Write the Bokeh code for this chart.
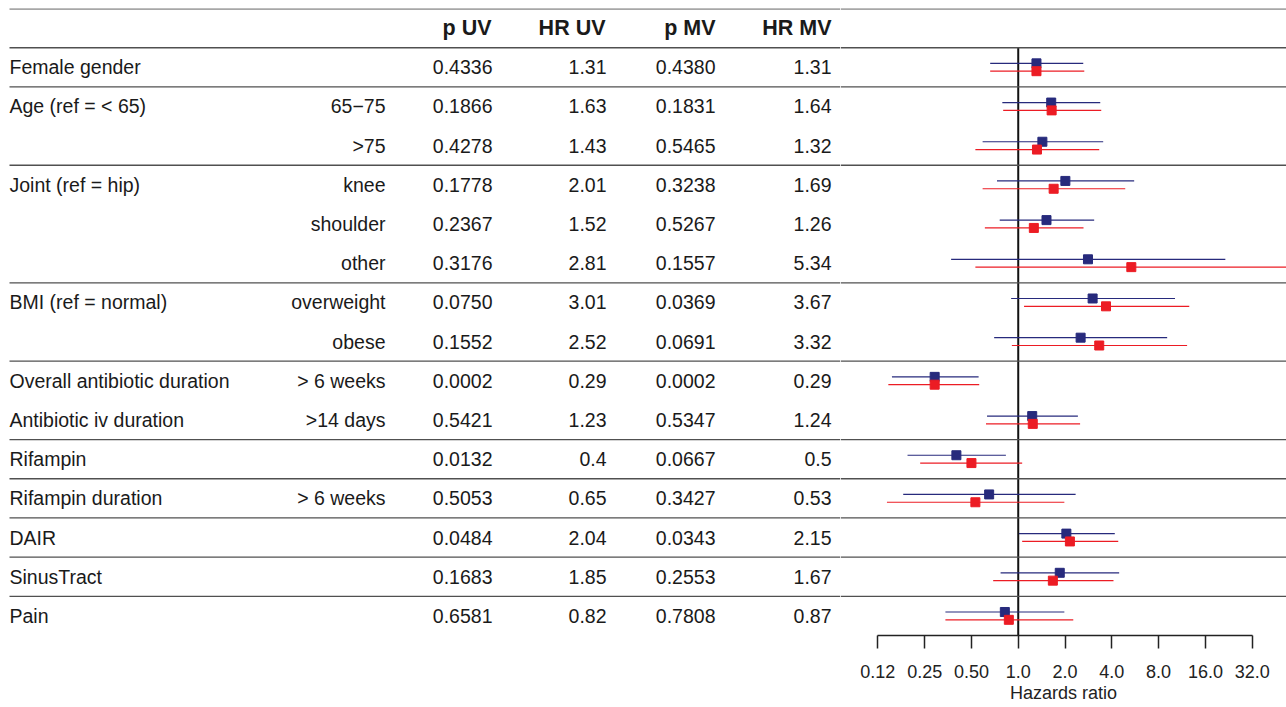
from bokeh.plotting import figure
from bokeh.layouts import row
from bokeh.models import Range1d, Span, FixedTicker, ColumnDataSource
from bokeh.core.properties import value
from bokeh.embed import file_html
from bokeh.resources import INLINE

# ---------------- data ----------------
labels = ["Female gender", "Age (ref = < 65)", "", "Joint (ref = hip)", "", "",
          "BMI (ref = normal)", "", "Overall antibiotic duration", "Antibiotic iv duration",
          "Rifampin", "Rifampin duration", "DAIR", "SinusTract", "Pain"]
sublabels = ["", "65\u221275", ">75", "knee", "shoulder", "other", "overweight", "obese",
             "> 6 weeks", ">14 days", "", "> 6 weeks", "", "", ""]
p_uv = ["0.4336", "0.1866", "0.4278", "0.1778", "0.2367", "0.3176", "0.0750", "0.1552",
        "0.0002", "0.5421", "0.0132", "0.5053", "0.0484", "0.1683", "0.6581"]
hr_uv = [1.31, 1.63, 1.43, 2.01, 1.52, 2.81, 3.01, 2.52, 0.29, 1.23, 0.4, 0.65, 2.04, 1.85, 0.82]
p_mv = ["0.4380", "0.1831", "0.5465", "0.3238", "0.5267", "0.1557", "0.0369", "0.0691",
        "0.0002", "0.5347", "0.0667", "0.3427", "0.0343", "0.2553", "0.7808"]
hr_mv = [1.31, 1.64, 1.32, 1.69, 1.26, 5.34, 3.67, 3.32, 0.29, 1.24, 0.5, 0.53, 2.15, 1.67, 0.87]

uv_lo = [0.66, 0.79, 0.59, 0.73, 0.76, 0.37, 0.90, 0.70, 0.154, 0.63, 0.194, 0.182, 1.01, 0.77, 0.34]
uv_hi = [2.62, 3.37, 3.52, 5.57, 3.08, 21.5, 10.2, 9.08, 0.556, 2.42, 0.833, 2.34, 4.18, 4.46, 1.98]
mv_lo = [0.66, 0.80, 0.53, 0.59, 0.61, 0.53, 1.09, 0.91, 0.146, 0.62, 0.234, 0.143, 1.06, 0.69, 0.34]
mv_hi = [2.66, 3.42, 3.32, 4.88, 2.63, 60.0, 12.6, 12.2, 0.561, 2.50, 1.06, 1.98, 4.40, 4.10, 2.26]

headers = ["p UV", "HR UV", "p MV", "HR MV"]
tick_values = [0.125, 0.25, 0.5, 1, 2, 4, 8, 16, 32]
tick_labels = ["0.12", "0.25", "0.50", "1.0", "2.0", "4.0", "8.0", "16.0", "32.0"]
group_breaks = [0, 2, 5, 7, 9, 10, 11, 12, 13]  # separator after these rows

# ---------------- styling ----------------
FONT = "Liberation Sans"
FS = "19.5px"
HFS = "21.5px"
TXT = "#1a1a1a"
LINE = "#505050"
BLUE = "#272a7c"
RED = "#ec1c24"

n = len(labels)
rows_y = list(range(n))
yr = Range1d(14.5, -1.5)
W = 1286
H = 707
TOP = 8
BOTTOM = 72

# ---------------- table figure ----------------
tw = 840
t = figure(width=tw, height=H, x_range=Range1d(0, tw), y_range=yr,
           x_axis_location=None, y_axis_location=None, toolbar_location=None,
           output_backend="svg", min_border_left=0, min_border_right=0,
           min_border_top=TOP, min_border_bottom=BOTTOM, outline_line_color=None)
t.xgrid.visible = False
t.ygrid.visible = False

src = ColumnDataSource(dict(y=rows_y, lab=labels, sub=sublabels, puv=p_uv,
                            huv=[str(v) for v in hr_uv], pmv=p_mv,
                            hmv=[str(v) for v in hr_mv]))
common = dict(source=src, text_font=value(FONT), text_font_size=FS,
              text_color=TXT, text_baseline="middle")
t.text(x=9, y="y", text="lab", text_align="left", **common)
t.text(x=385, y="y", text="sub", text_align="right", **common)
t.text(x=492, y="y", text="puv", text_align="right", **common)
t.text(x=606, y="y", text="huv", text_align="right", **common)
t.text(x=715, y="y", text="pmv", text_align="right", **common)
t.text(x=831, y="y", text="hmv", text_align="right", **common)

hsrc = ColumnDataSource(dict(x=[491, 605, 715, 831], y=[-1] * 4, t=headers))
t.text(x="x", y="y", text="t", source=hsrc, text_align="right", text_baseline="middle",
       text_font=value(FONT), text_font_size=HFS, text_font_style="bold", text_color=TXT)

# ---------------- forest figure ----------------
fw = W - tw
f = figure(width=fw, height=H, x_axis_type="log", x_range=Range1d(0.07187, 53.2),
           y_range=yr, y_axis_location=None, toolbar_location=None,
           output_backend="svg", min_border_left=0, min_border_right=0,
           min_border_top=TOP, min_border_bottom=BOTTOM, outline_line_color=None)
f.xgrid.visible = False
f.ygrid.visible = False

ax = f.xaxis[0]
ax.ticker = FixedTicker(ticks=tick_values, minor_ticks=[])
ax.major_label_overrides = {float(v): l for v, l in zip(tick_values, tick_labels)}
ax.bounds = (tick_values[0], tick_values[-1])
ax.major_tick_in = 0
ax.major_tick_out = 13
ax.minor_tick_line_color = None
ax.axis_line_width = 1.5
ax.major_tick_line_width = 1.5
ax.axis_line_color = "#222222"
ax.major_tick_line_color = "#222222"
ax.major_label_text_font = FONT
ax.major_label_text_font_size = "18px"
ax.major_label_text_color = "#222222"
ax.major_label_standoff = 16
ax.axis_label = "Hazards ratio"
ax.axis_label_text_font = FONT
ax.axis_label_text_font_size = "18px"
ax.axis_label_text_font_style = "normal"
ax.axis_label_text_color = "#222222"
ax.axis_label_standoff = 2

# vertical reference line at HR = 1
f.segment(x0=[1], y0=[-0.5], x1=[1], y1=[14.5], line_color="#111111", line_width=2)

# separators
sep_y = [-1.49, -0.5] + [g + 0.5 for g in group_breaks]
sep_w = [1.3, 1.6] + [1.3] * len(group_breaks)
t.segment(x0=[9] * len(sep_y), y0=sep_y, x1=[tw] * len(sep_y), y1=sep_y,
          line_color=LINE, line_width=sep_w)
for yy, ww in zip(sep_y, sep_w):
    f.add_layout(Span(location=yy, dimension="width", line_color=LINE, line_width=ww))

yb = [y - 0.1 for y in rows_y]
yrd = [y + 0.1 for y in rows_y]
f.segment(x0=uv_lo, y0=yb, x1=uv_hi, y1=yb, line_color=BLUE, line_width=1.2)
f.segment(x0=mv_lo, y0=yrd, x1=mv_hi, y1=yrd, line_color=RED, line_width=1.2)
f.scatter(x=hr_uv, y=yb, marker="square", size=9, fill_color=BLUE, line_color=BLUE)
f.scatter(x=hr_mv, y=yrd, marker="square", size=9, fill_color=RED, line_color=RED)

layout = row(t, f, spacing=0)
open("out.html", "w").write(file_html(layout, INLINE))
